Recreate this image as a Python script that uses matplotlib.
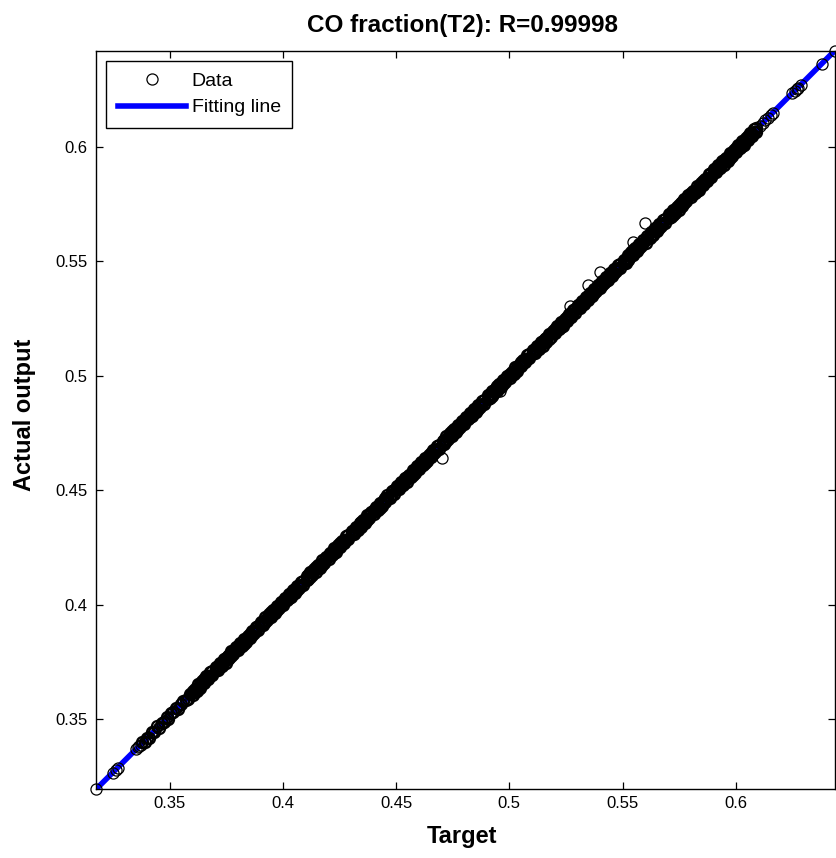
import numpy as np
import matplotlib
matplotlib.use("Agg")
import matplotlib.pyplot as plt
from matplotlib.lines import Line2D

plt.rcParams['font.family'] = ['Liberation Sans', 'DejaVu Sans']

title_text = "CO fraction(T2): R=0.99998"
x_label = "Target"
y_label = "Actual output"
legend_labels = ["Data", "Fitting line"]
tick_values = [0.35, 0.4, 0.45, 0.5, 0.55, 0.6]
tick_labels = ["0.35", "0.4", "0.45", "0.5", "0.55", "0.6"]

# isolated circles, lower-left end
low_targets = [0.3175, 0.3252, 0.3262, 0.3274, 0.3352, 0.3360, 0.3366, 0.3372]
low_outputs = [0.3193, 0.3266, 0.3276, 0.3287, 0.3368, 0.3376, 0.3382, 0.3388]

# isolated circles, upper-right end
high_targets = [0.6105, 0.6118, 0.6130, 0.6143, 0.6155, 0.6165, 0.6250, 0.6262,
                0.6270, 0.6275, 0.6287, 0.6380, 0.6438]
high_outputs = [0.6091, 0.6104, 0.6116, 0.6129, 0.6140, 0.6150, 0.6234, 0.6246,
                0.6254, 0.6259, 0.6271, 0.6363, 0.6421]

# visible outliers off the band
outlier_targets = [0.4702, 0.5267, 0.5349, 0.5401, 0.5548, 0.5599, 0.4960]
outlier_outputs = [0.4639, 0.5305, 0.5395, 0.5452, 0.5585, 0.5666, 0.4935]

# dense band: targets and (output - target) in units of 1e-4
band_targets = [
    0.3380, 0.3391, 0.3402, 0.3410, 0.3423, 0.3431, 0.3445, 0.3452, 0.3466, 0.3474, 0.3487,
    0.3495, 0.3508, 0.3517, 0.3529, 0.3538, 0.3550, 0.3559, 0.3571, 0.3580, 0.3592, 0.3600,
    0.3602, 0.3610, 0.3619, 0.3627, 0.3636, 0.3645, 0.3653, 0.3662, 0.3671, 0.3680, 0.3689,
    0.3705, 0.3713, 0.3722, 0.3730, 0.3739, 0.3747, 0.3756, 0.3764, 0.3773, 0.3782, 0.3791,
    0.3802, 0.3810, 0.3819, 0.3827, 0.3836, 0.3845, 0.3853, 0.3862, 0.3871, 0.3880, 0.3889,
    0.3905, 0.3913, 0.3922, 0.3930, 0.3939, 0.3947, 0.3956, 0.3964, 0.3973, 0.3982, 0.3991,
    0.4002, 0.4010, 0.4019, 0.4027, 0.4036, 0.4045, 0.4053, 0.4062, 0.4071, 0.4080, 0.4089,
    0.4105, 0.4113, 0.4122, 0.4130, 0.4139, 0.4147, 0.4156, 0.4164, 0.4173, 0.4182, 0.4191,
    0.4202, 0.4210, 0.4219, 0.4227, 0.4236, 0.4245, 0.4253, 0.4262, 0.4271, 0.4280, 0.4289,
    0.4305, 0.4313, 0.4322, 0.4330, 0.4339, 0.4347, 0.4356, 0.4364, 0.4373, 0.4382, 0.4391,
    0.4402, 0.4410, 0.4419, 0.4427, 0.4436, 0.4445, 0.4453, 0.4462, 0.4471, 0.4480, 0.4489,
    0.4505, 0.4513, 0.4522, 0.4530, 0.4539, 0.4547, 0.4556, 0.4564, 0.4573, 0.4582, 0.4591,
    0.4602, 0.4610, 0.4619, 0.4627, 0.4636, 0.4645, 0.4653, 0.4662, 0.4671, 0.4680, 0.4689,
    0.4705, 0.4713, 0.4722, 0.4730, 0.4739, 0.4747, 0.4756, 0.4764, 0.4773, 0.4782, 0.4791,
    0.4802, 0.4810, 0.4819, 0.4827, 0.4836, 0.4845, 0.4853, 0.4862, 0.4871, 0.4880, 0.4889,
    0.4905, 0.4913, 0.4922, 0.4930, 0.4939, 0.4947, 0.4956, 0.4964, 0.4973, 0.4982, 0.4991,
    0.5002, 0.5010, 0.5019, 0.5027, 0.5036, 0.5045, 0.5053, 0.5062, 0.5071, 0.5080, 0.5089,
    0.5105, 0.5113, 0.5122, 0.5130, 0.5139, 0.5147, 0.5156, 0.5164, 0.5173, 0.5182, 0.5191,
    0.5202, 0.5210, 0.5219, 0.5227, 0.5236, 0.5245, 0.5253, 0.5262, 0.5271, 0.5280, 0.5289,
    0.5305, 0.5313, 0.5322, 0.5330, 0.5339, 0.5347, 0.5356, 0.5364, 0.5373, 0.5382, 0.5391,
    0.5402, 0.5410, 0.5419, 0.5427, 0.5436, 0.5445, 0.5453, 0.5462, 0.5471, 0.5480, 0.5489,
    0.5505, 0.5513, 0.5522, 0.5530, 0.5539, 0.5547, 0.5556, 0.5564, 0.5573, 0.5582, 0.5591,
    0.5602, 0.5610, 0.5619, 0.5627, 0.5636, 0.5645, 0.5653, 0.5662, 0.5671, 0.5680, 0.5689,
    0.5705, 0.5713, 0.5722, 0.5730, 0.5739, 0.5747, 0.5756, 0.5764, 0.5773, 0.5782, 0.5791,
    0.5802, 0.5810, 0.5819, 0.5827, 0.5836, 0.5845, 0.5853, 0.5862, 0.5871, 0.5880, 0.5889,
    0.5905, 0.5913, 0.5922, 0.5930, 0.5939, 0.5947, 0.5956, 0.5964, 0.5973, 0.5982, 0.5991,
    0.6002, 0.6010, 0.6019, 0.6027, 0.6036, 0.6045, 0.6053, 0.6062, 0.6071, 0.6080, 0.6089,
]
band_errors_e4 = [
    19, 10, 17, 8, 21, 13, 23, 9, 16, 11, 22,
    7, 18, 14, 20, 8, 17, 21, 12, 9, 19, 13,
    19, 8, 15, 5, 17, 12, 21, 7, 14, 10, 20,
    8, 19, 5, 15, 10, 21, 7, 17, 4, 14, 11,
    17, 6, 13, 3, 15, 10, 19, 5, 12, 8, 18,
    6, 17, 3, 13, 8, 19, 5, 15, 2, 12, 9,
    15, 4, 11, 1, 13, 8, 17, 3, 10, 6, 16,
    4, 15, 1, 11, 6, 17, 3, 13, 0, 10, 7,
    13, 2, 9, -1, 11, 6, 15, 1, 8, 4, 14,
    2, 13, -1, 9, 4, 15, 1, 11, -2, 8, 5,
    11, 0, 7, -3, 9, 4, 13, -1, 6, 2, 12,
    -1, 10, -4, 6, 1, 12, -2, 8, -5, 5, 2,
    8, -3, 4, -6, 6, 1, 10, -4, 3, -1, 9,
    -3, 8, -6, 4, -1, 10, -4, 6, -7, 3, 0,
    6, -5, 2, -8, 4, -1, 8, -6, 1, -3, 7,
    -5, 6, -8, 2, -3, 8, -6, 4, -9, 1, -2,
    4, -7, 0, -10, 2, -3, 6, -8, -1, -5, 5,
    -7, 4, -10, 0, -5, 6, -8, 2, -11, -1, -4,
    2, -9, -2, -12, 0, -5, 4, -10, -3, -7, 3,
    -9, 2, -12, -2, -7, 4, -10, 0, -13, -3, -6,
    0, -11, -4, -14, -2, -7, 2, -12, -5, -9, 1,
    -12, -1, -15, -5, -10, 1, -13, -3, -16, -6, -9,
    -3, -14, -7, -17, -5, -10, -1, -15, -8, -12, -2,
    -14, -3, -17, -7, -12, -1, -15, -5, -18, -8, -11,
    -5, -16, -9, -19, -7, -12, -3, -17, -10, -14, -4,
    -16, -5, -19, -9, -14, -3, -17, -7, -20, -10, -13,
    -7, -18, -11, -21, -9, -14, -5, -19, -12, -16, -6,
]
# second sample at the same targets (from 0.3602 on), (output - target) in 1e-4
repeat_start = 22
band_repeat_errors_e4 = [
    2, 23, 4, 25, 1, 22, 3, 24, 5, 25, 3,
    23, 2, 24, 3, 22, 0, 21, 1, 24, 4, 22,
    0, 21, 2, 23, -1, 20, 1, 22, 3, 23, 1,
    21, 0, 22, 1, 20, -2, 19, -1, 22, 2, 20,
    -2, 19, 0, 21, -3, 18, -1, 20, 1, 21, -1,
    19, -2, 20, -1, 18, -4, 17, -3, 20, 0, 18,
    -4, 17, -2, 19, -5, 16, -3, 18, -1, 19, -3,
    17, -4, 18, -3, 16, -6, 15, -5, 18, -2, 16,
    -6, 15, -4, 17, -7, 14, -5, 16, -3, 17, -5,
    14, -7, 15, -6, 13, -9, 12, -8, 15, -5, 13,
    -9, 12, -7, 14, -10, 11, -8, 13, -6, 14, -8,
    12, -9, 13, -8, 11, -11, 10, -10, 13, -7, 11,
    -11, 10, -9, 12, -12, 9, -10, 11, -8, 12, -10,
    10, -11, 11, -10, 9, -13, 8, -12, 11, -9, 9,
    -13, 8, -11, 10, -14, 7, -12, 9, -10, 10, -12,
    8, -13, 9, -12, 7, -15, 6, -14, 9, -11, 7,
    -15, 6, -13, 8, -16, 5, -14, 7, -12, 8, -14,
    6, -15, 7, -14, 5, -17, 4, -16, 7, -13, 5,
    -17, 4, -15, 6, -18, 3, -16, 5, -14, 6, -16,
    3, -18, 4, -17, 2, -20, 1, -19, 4, -16, 2,
    -20, 1, -18, 3, -21, 0, -19, 2, -17, 3, -19,
    1, -20, 2, -19, 0, -22, -1, -21, 2, -18, 0,
    -22, -1, -20, 1, -23, -2, -21, 0, -19, 1, -21,
    -1, -22, 0, -21, -2, -24, -3, -23, 0, -20, -2,
    -24, -3, -22, -1, -25, -4, -23, -2, -21, -1, -23,
]

band_t = np.array(band_targets)
band_y = band_t + np.array(band_errors_e4) * 1e-4
rep_t = band_t[repeat_start:]
rep_y = rep_t + np.array(band_repeat_errors_e4) * 1e-4

all_t = np.concatenate([low_targets, band_t, rep_t, outlier_targets, high_targets])
all_y = np.concatenate([low_outputs, band_y, rep_y, outlier_outputs, high_outputs])

W, H = 837, 858
fig = plt.figure(figsize=(W / 100, H / 100), dpi=100)
ax = fig.add_axes([96 / W, 1 - 789.3 / H, 739 / W, 738.6 / H])

xmin, xmax = all_t.min(), all_t.max()
ymin, ymax = all_y.min(), all_y.max()

# fitting line (least squares)
slope, intercept = np.polyfit(all_t, all_y, 1)
fx = np.array([xmin, xmax])
ax.plot(fx, slope * fx + intercept, color='#0000ff', lw=4, solid_capstyle='butt', zorder=1)

ms = 8
dense_t = np.concatenate([band_t, rep_t])
dense_y = np.concatenate([band_y, rep_y])
ax.plot(dense_t, dense_y, linestyle='none', marker='o', ms=ms, mfc='none', mec='black',
        mew=1.6, zorder=2, clip_on=False)
sparse_t = low_targets + outlier_targets + high_targets
sparse_y = low_outputs + outlier_outputs + high_outputs
ax.plot(sparse_t, sparse_y, linestyle='none', marker='o', ms=ms, mfc='none', mec='black',
        mew=0.9, zorder=3, clip_on=False)

ax.set_xlim(xmin, xmax)
ax.set_ylim(ymin, ymax)
ax.set_xticks(tick_values)
ax.set_xticklabels(tick_labels)
ax.set_yticks(tick_values)
ax.set_yticklabels(tick_labels)
ax.tick_params(direction='in', top=True, right=True, length=5, width=0.9,
               labelsize=12, colors='black')
ax.tick_params(axis='x', pad=5)
ax.tick_params(axis='y', pad=6)
for s in ax.spines.values():
    s.set_linewidth(1.0)
    s.set_color('black')

ax.set_title(title_text, fontsize=17.5, fontweight='bold', pad=13.7, x=0.496)
ax.set_xlabel(x_label, fontsize=17, fontweight='bold')
ax.xaxis.set_label_coords(0.4946, -0.0731)
ax.xaxis.label.set_va('baseline')
ax.set_ylabel(y_label, fontsize=17, fontweight='bold')
ax.yaxis.set_label_coords(-0.0886, 0.5068)
ax.yaxis.label.set_va('baseline')

handles = [Line2D([], [], linestyle='none', marker='o', ms=ms, mfc='none', mec='black', mew=0.9),
           Line2D([], [], color='#0000ff', lw=4)]
leg = ax.legend(handles, legend_labels, loc='upper left', bbox_to_anchor=(10 / 739, 1 - 10 / 738.6),
                borderaxespad=0, fancybox=False, framealpha=1, edgecolor='black',
                fontsize=14, handlelength=3.5, handletextpad=0.3, labelspacing=0.45,
                borderpad=0.6, numpoints=1)
leg.get_frame().set_linewidth(1.0)

fig.savefig("out.png", dpi=100)
